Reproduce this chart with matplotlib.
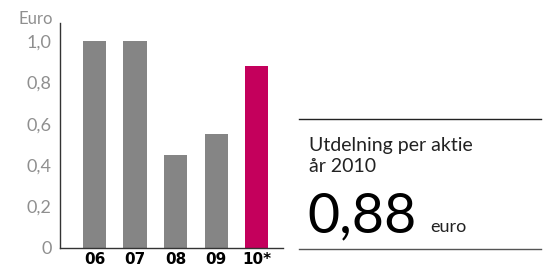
import matplotlib.pyplot as plt
from matplotlib.lines import Line2D

years = ['06', '07', '08', '09', '10*']
dividend = [1.0, 1.0, 0.45, 0.55, 0.88]
bar_colors = ['#858585', '#858585', '#858585', '#858585', '#c4005c']
yticks = [0, 0.2, 0.4, 0.6, 0.8, 1.0]
ytick_labels = ['0', '0,2', '0,4', '0,6', '0,8', '1,0']

plt.rcParams['font.family'] = ['Lato', 'DejaVu Sans']

W, H = 546, 269
fig = plt.figure(figsize=(W / 100, H / 100), dpi=100)

# axes box in pixels: left 60, right 283, top 23, bottom 248
ax = fig.add_axes([60 / W, (H - 248) / H, (283 - 60) / W, (248 - 23) / H])
x = list(range(len(years)))
ax.bar(x, dividend, width=0.57, color=bar_colors)
ax.set_xlim(-0.85, 4.65)
ax.set_ylim(0, 1.087)

ax.set_yticks(yticks)
ax.set_yticklabels(ytick_labels, color='#8f8f8f', fontsize=13)
ax.set_xticks(x)
ax.set_xticklabels(years, color='black', fontsize=11, fontweight='bold',
                   family='DejaVu Sans')
ax.tick_params(axis='both', length=0)
ax.tick_params(axis='y', pad=6)
ax.tick_params(axis='x', pad=3)

for s in ['top', 'right']:
    ax.spines[s].set_visible(False)
for s in ['left', 'bottom']:
    ax.spines[s].set_color('#333333')
    ax.spines[s].set_linewidth(1.0)

fig.text(53 / W, 1 - 19 / H, 'Euro', ha='right', va='center',
         color='#8f8f8f', fontsize=12)

# right info box
fig.add_artist(Line2D([299 / W, 541 / W], [1 - 119 / H, 1 - 119 / H],
                      color='#222222', lw=1.0))
fig.add_artist(Line2D([299 / W, 541 / W], [1 - 249 / H, 1 - 249 / H],
                      color='#555555', lw=1.0))
fig.text(309 / W, 1 - 145 / H, 'Utdelning per aktie', ha='left', va='center',
         color='#222222', fontsize=14)
fig.text(309 / W, 1 - 167 / H, 'år 2010', ha='left', va='center',
         color='#222222', fontsize=14)
fig.text(307 / W, 1 - 232 / H, '0,88', ha='left', va='baseline',
         color='black', fontsize=40)
fig.text(430 / W, 1 - 232 / H, 'euro', ha='left', va='baseline',
         color='#222222', fontsize=13)

fig.savefig('out.png', dpi=100)
